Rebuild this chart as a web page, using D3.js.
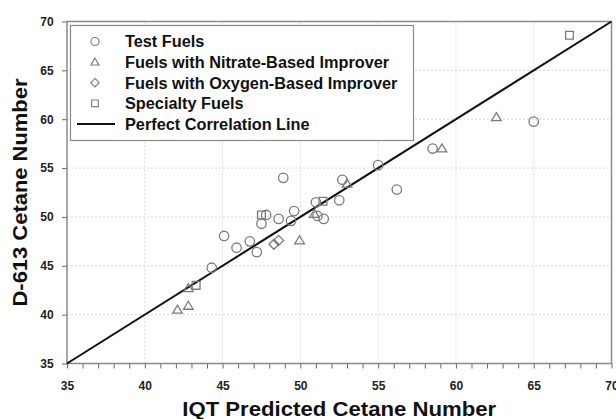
<!DOCTYPE html>
<html>
<head>
<meta charset="utf-8">
<script src="https://cdn.jsdelivr.net/npm/d3@7"></script>
<style>
  body { margin: 0; background: #fff; }
  text { font-family: "Liberation Sans", Arial, sans-serif; font-weight: bold; }
</style>
</head>
<body>
<svg width="616" height="419"></svg>
<script>
// donnees : [IQT predit, D-613]
var testFuels = [[65.0,59.75],[58.5,57.0],[55.0,55.3],[56.2,52.8],[52.7,53.8],[48.9,54.0],
  [51.0,51.5],[52.5,51.7],[47.8,50.2],[49.6,50.6],[48.6,49.8],[49.4,49.6],[51.1,50.1],
  [51.5,49.8],[47.5,49.3],[45.1,48.05],[46.75,47.5],[45.9,46.85],[47.2,46.4],[44.3,44.8]];
var nitrateFuels = [[62.6,60.2],[59.1,57.0],[53.0,53.4],[50.9,50.3],[49.95,47.6],
  [42.8,42.7],[42.1,40.5],[42.8,40.9]];
var oxygenFuels = [[48.3,47.2],[48.6,47.6]];
var specialtyFuels = [[67.3,68.6],[51.45,51.6],[47.5,50.2],[43.3,43.0]];
var perfectLine = [[35,35],[70,70]];

var majorTicks = [35,40,45,50,55,60,65,70];
var minorTicks = d3.range(35,71,1);
var legendLabels = ["Test Fuels","Fuels with Nitrate-Based Improver","Fuels with Oxygen-Based Improver","Specialty Fuels","Perfect Correlation Line"];
var legendSymbols = ["circle","triangle","diamond","square","line"];

var svg = d3.select("svg"),
    margin = {top: 21.5, right: 4.5, bottom: 55.5, left: 67},
    width = +svg.attr("width") - margin.left - margin.right,
    height = +svg.attr("height") - margin.top - margin.bottom,
    g = svg.append("g").attr("transform", "translate(" + margin.left + "," + margin.top + ")");

var x = d3.scaleLinear().domain([35,70]).range([0,width]);
var y = d3.scaleLinear().domain([35,70]).range([height,0]);

var markerColor = "#7a7a7a";

// grille
g.selectAll(".gridx").data(majorTicks.slice(1,-1)).enter().append("line")
  .attr("x1", function(d){ return x(d); }).attr("x2", function(d){ return x(d); })
  .attr("y1", 0).attr("y2", height)
  .style("stroke", "#d8d8d8").style("stroke-dasharray", "2,2");
g.selectAll(".gridy").data(majorTicks.slice(1,-1)).enter().append("line")
  .attr("y1", function(d){ return y(d); }).attr("y2", function(d){ return y(d); })
  .attr("x1", 0).attr("x2", width)
  .style("stroke", "#d8d8d8").style("stroke-dasharray", "2,2");

// axes
var xAxis = g.append("g").attr("transform", "translate(0," + height + ")")
  .call(d3.axisBottom(x).tickValues(minorTicks).tickSize(5).tickFormat(function(d){ return majorTicks.indexOf(d) >= 0 ? d : ""; }));
var yAxis = g.append("g")
  .call(d3.axisLeft(y).tickValues(majorTicks).tickSize(5));
[xAxis, yAxis].forEach(function(a){
  a.select(".domain").remove();
  a.selectAll("line").style("stroke", "#666");
  a.selectAll("text").style("font-size", "12px").style("fill", "#222");
});
xAxis.selectAll("text").attr("dy", "1.55em");
yAxis.selectAll("text").attr("dx", "-0.45em");

// cadre
g.append("rect").attr("width", width).attr("height", height)
  .style("fill", "none").style("stroke", "#8a8a8a").style("stroke-width", 1.5);

// ligne de correlation parfaite
g.append("path").datum(perfectLine)
  .attr("d", d3.line().x(function(d){ return x(d[0]); }).y(function(d){ return y(d[1]); }))
  .style("stroke", "#111").style("stroke-width", 2).style("fill", "none");

// symboles
function symbolPath(type) {
  if (type == "circle") return d3.symbol().type(d3.symbolCircle).size(70)();
  if (type == "triangle") return "M0,-4.6L4.8,3.4L-4.8,3.4Z";
  if (type == "diamond") return "M0,-5L5,0L0,5L-5,0Z";
  if (type == "square") return "M-3.9,-3.9H3.9V3.9H-3.9Z";
}

var series = [[testFuels,"circle"],[nitrateFuels,"triangle"],[oxygenFuels,"diamond"],[specialtyFuels,"square"]];
series.forEach(function(s){
  g.selectAll(".pt-" + s[1]).data(s[0]).enter().append("path")
    .attr("class", "pt-" + s[1])
    .attr("transform", function(d){ return "translate(" + x(d[0]) + "," + y(d[1]) + ")"; })
    .attr("d", symbolPath(s[1]))
    .style("fill", "none").style("stroke", markerColor).style("stroke-width", 1.3);
});

// legende
var legend = svg.append("g");
legend.append("rect").attr("x", 70.5).attr("y", 25.5).attr("width", 343).attr("height", 115)
  .style("fill", "#fff").style("stroke", "#8a8a8a").style("stroke-width", 1.2);
var item = legend.selectAll(".item").data(legendLabels).enter().append("g")
  .attr("transform", function(d, i){ return "translate(0," + (41.5 + i*20.6) + ")"; });
item.each(function(d, i){
  var it = d3.select(this);
  if (legendSymbols[i] == "line") {
    it.append("line").attr("x1", 77).attr("x2", 115).attr("y1", 0).attr("y2", 0)
      .style("stroke", "#111").style("stroke-width", 2);
  } else {
    it.append("path").attr("transform", "translate(95,0) scale(0.85)")
      .attr("d", symbolPath(legendSymbols[i]))
      .style("fill", "none").style("stroke", markerColor).style("stroke-width", 1.3);
  }
  it.append("text").attr("x", 125).attr("dy", "0.36em").style("font-size", "16.3px").style("fill", "#111").text(d);
});

// titres des axes
svg.append("text").attr("x", margin.left + width/2).attr("y", 416)
  .attr("text-anchor", "middle").style("font-size", "19.5px").style("fill", "#111")
  .attr("textLength", 314).attr("lengthAdjust", "spacingAndGlyphs")
  .text("IQT Predicted Cetane Number");
svg.append("text").attr("transform", "translate(27," + (margin.top + height/2) + ") rotate(-90)")
  .attr("text-anchor", "middle").style("font-size", "19.5px").style("fill", "#111")
  .attr("textLength", 228).attr("lengthAdjust", "spacingAndGlyphs")
  .text("D-613 Cetane Number");
</script>
</body>
</html>
